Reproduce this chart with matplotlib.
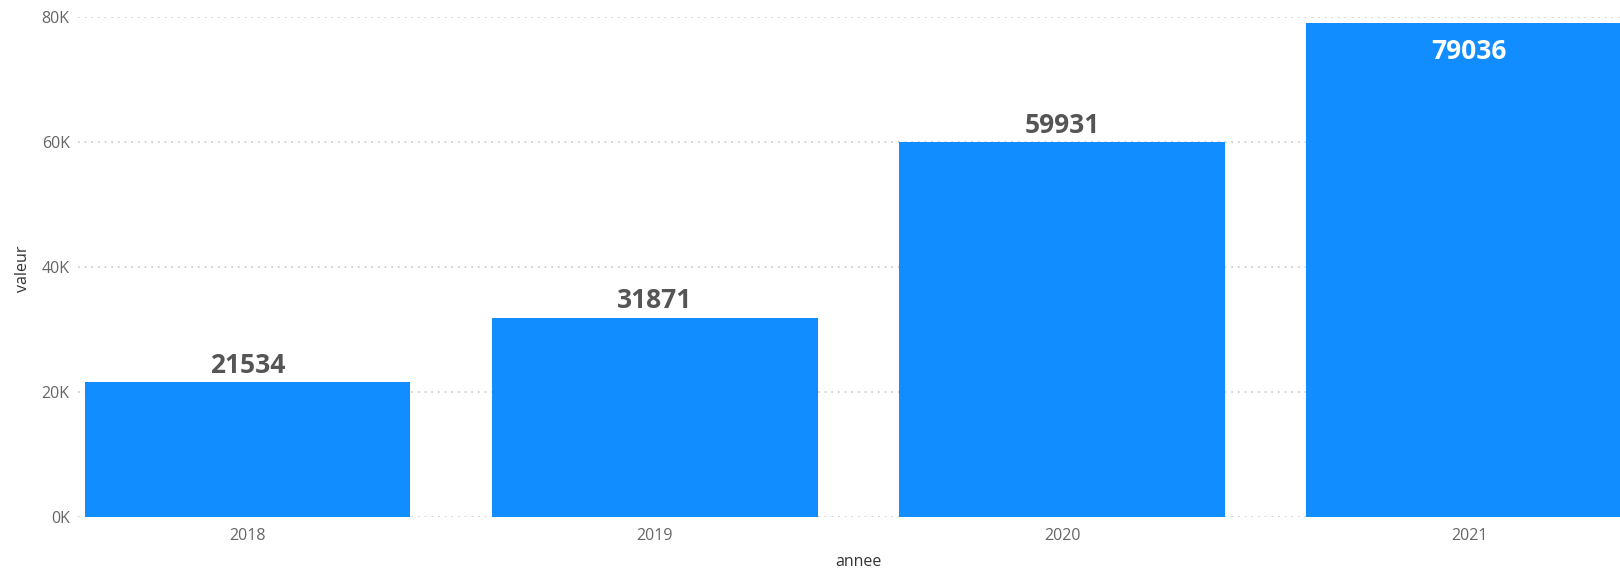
import matplotlib
matplotlib.use("Agg")
import matplotlib.pyplot as plt
from matplotlib.ticker import FuncFormatter

years = ["2018", "2019", "2020", "2021"]
values = [21534, 31871, 59931, 79036]
yticks = [0, 20000, 40000, 60000, 80000]

plt.rcParams['font.family'] = ['Open Sans', 'DejaVu Sans']

W, H = 1620, 572
fig = plt.figure(figsize=(W / 100, H / 100), dpi=100)
ax_left, ax_bottom = 78 / W, 55 / H
ax_top = (H - 17) / H
ax = fig.add_axes([ax_left, ax_bottom, 1 - ax_left, ax_top - ax_bottom])

x = list(range(len(years)))
bar_color = "#118DFF"
bars = ax.bar(x, values, width=0.8, color=bar_color, zorder=2)

ax.set_xlim(-0.416, 3.37)
ax.set_ylim(0, 80000)
ax.set_yticks(yticks)
ax.yaxis.set_major_formatter(FuncFormatter(lambda v, p: f"{int(v/1000)}K"))
ax.set_xticks(x)
ax.set_xticklabels(years)
for s in ax.spines.values():
    s.set_visible(False)
ax.tick_params(axis="both", length=0, colors="#666666", labelsize=11.5)
ax.tick_params(axis="x", pad=8)
ax.tick_params(axis="y", pad=6)
ax.grid(axis="y", color="#c8c8c8", linestyle=(0, (1, 3)), linewidth=1.2, zorder=0)
ax.set_axisbelow(True)

for xi, v in zip(x, values):
    if v > 70000:
        ax.annotate(str(v), (xi, v), xytext=(0, -20.5), textcoords="offset points",
                    ha="center", va="center", fontsize=19, fontweight="bold", color="white")
    else:
        ax.annotate(str(v), (xi, v), xytext=(0, 12.5), textcoords="offset points",
                    ha="center", va="center", fontsize=19, fontweight="bold", color="#555555")

fig.text(858 / W, 1 - 562 / H, "annee", ha="center", va="center", fontsize=11.5, color="#333333")
fig.text(23 / W, 1 - 269 / H, "valeur", ha="center", va="center", rotation=90, fontsize=11.5, color="#333333")

fig.savefig("out.png", dpi=100)
